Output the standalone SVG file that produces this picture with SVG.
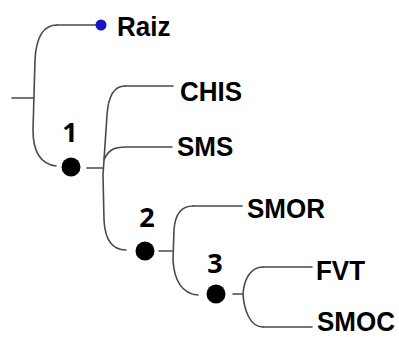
<svg xmlns="http://www.w3.org/2000/svg" width="399" height="337" viewBox="0 0 399 337">
<style>
.e{fill:none;stroke:#4a4a4a;stroke-width:1.6;stroke-linecap:round}
.lb{font-family:"Liberation Sans",Arial,sans-serif;font-weight:bold;font-size:26px;fill:#000}
.num{font-family:"Open Sans","Noto Sans",sans-serif;font-weight:bold;font-size:27px;fill:#000;text-anchor:middle}
.dot{fill:#000}
</style>
<rect width="399" height="337" fill="#fff"/>
<g id="connectors">
<path class="e" d="M12,98 L33,98"/>
<path class="e" d="M57,25 C42,25 36,40 35,60 L33,130 C33,152 40,164 56,166"/>
<path class="e" d="M57,25 L97,25"/>
<path class="e" d="M87,168 L103,168"/>
<path class="e" d="M125,86 C112,86 108,100 107,115 L103,175 L104,220 C105,240 112,250 126,250"/>
<path class="e" d="M125,86 L173,86"/>
<path class="e" d="M104,160 C108,150 114,147 126,147 L172,147"/>
<path class="e" d="M159,251 L172,251"/>
<path class="e" d="M193,206 C180,206 175,215 174,230 L173,260 C174,280 182,294 198,295"/>
<path class="e" d="M193,206 L242,206"/>
<path class="e" d="M233,294 L243,294"/>
<path class="e" d="M263,267 C250,267 244,280 243,294 C244,310 250,327 263,327"/>
<path class="e" d="M263,267 L312,267"/>
<path class="e" d="M263,327 L312,327"/>
</g>
<g id="raiz">
<circle cx="101" cy="25" r="5.5" fill="#1414c8"/>
<text class="lb" transform="translate(117,36) scale(1,1.08)">Raiz</text>
</g>
<g id="n1">
<circle class="dot" cx="71" cy="167" r="9.5"/>
<text class="num" x="70" y="142">1</text>
</g>
<g id="chis"><text class="lb" transform="translate(180,101) scale(1,1.08)">CHIS</text></g>
<g id="sms"><text class="lb" transform="translate(177,156) scale(1,1.08)">SMS</text></g>
<g id="n2">
<circle class="dot" cx="145" cy="251" r="9.5"/>
<text class="num" x="147" y="227">2</text>
</g>
<g id="smor"><text class="lb" transform="translate(247,218) scale(1,1.08)">SMOR</text></g>
<g id="n3">
<circle class="dot" cx="216" cy="294" r="9.5"/>
<text class="num" x="215" y="273">3</text>
</g>
<g id="fvt"><text class="lb" transform="translate(316,280) scale(1,1.08)">FVT</text></g>
<g id="smoc"><text class="lb" transform="translate(317,331) scale(1,1.08)">SMOC</text></g>
</svg>
